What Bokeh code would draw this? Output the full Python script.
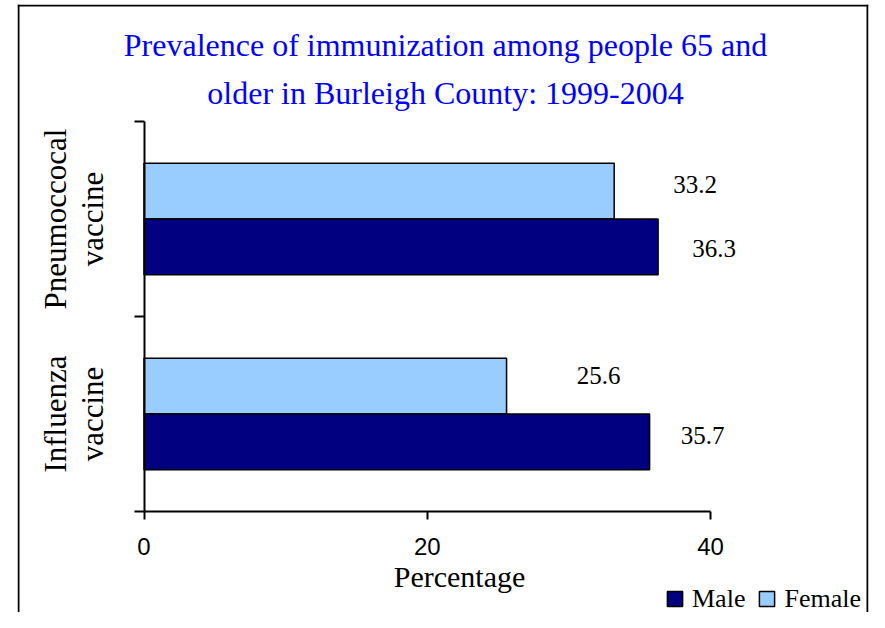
from bokeh.plotting import figure
from bokeh.models import (Range1d, FixedTicker, LinearAxis, Label, LabelSet,
                          ColumnDataSource, Legend, LegendItem, Span)
from bokeh.core.properties import value
from bokeh.embed import file_html
from bokeh.resources import INLINE
import numpy as np

# ---------------- data ----------------
categories = ["Influenza\nvaccine", "Pneumoccocal\nvaccine"]   # bottom -> top
male = [35.7, 36.3]
female = [25.6, 33.2]
series_names = ["Male", "Female"]
x_ticks = [0, 20, 40]
title_lines = ["Prevalence of immunization among people 65 and",
               "older in Burleigh County: 1999-2004"]
x_label = "Percentage"

# ---------------- styling / layout ----------------
MALE_COLOR = "#000080"
FEMALE_COLOR = "#99CCFF"
TITLE_COLOR = "#0000FF"
SERIF = "Liberation Serif"
SANS = "Liberation Sans"
BAR_H = 0.286
DODGE = 0.143
# data-label offsets in pixels (per category, bottom -> top)
male_xoff = [53, 56]
male_yoff = [6, -2]
female_xoff = [92, 81]
female_yoff = [11, 7]

# canvas geometry (canvas pixels)
W, H = 869, 612
ML, MT, MR, MB = 17, 4, 1, 0
F_LEFT, F_TOP = ML, MT
F_RIGHT, F_BOTTOM = W - MR, H - MB
# where the data area (axes) sits on the canvas
AX_LEFT, AX_RIGHT = 143.5, 710.0
AX_TOP, AX_BOTTOM = 121.0, 511.0
# chart border (left, top, right), canvas pixels
BORDER_L, BORDER_T, BORDER_R = 18, 5, 867

x_lo, x_hi = 0, x_ticks[-1]
y_lo, y_hi = 0, len(categories)
sx = (AX_RIGHT - AX_LEFT) / (x_hi - x_lo)
sy = (AX_BOTTOM - AX_TOP) / (y_hi - y_lo)
x_range = Range1d(x_lo - (AX_LEFT - F_LEFT) / sx, x_hi + (F_RIGHT - AX_RIGHT) / sx)
y_range = Range1d(y_lo - (F_BOTTOM - AX_BOTTOM) / sy, y_hi + (AX_TOP - F_TOP) / sy)


def scr(px, py):
    """canvas pixel -> frame screen units (x from left, y from bottom)"""
    return px - F_LEFT, F_BOTTOM - py


def dx(px):
    return x_lo + (px - AX_LEFT) / sx


def dy(py):
    return y_lo + (AX_BOTTOM - py) / sy


p = figure(width=W, height=H, output_backend="svg", toolbar_location=None,
           x_range=x_range, y_range=y_range,
           x_axis_type=None, y_axis_type=None, title=None,
           min_border_left=ML, min_border_right=MR,
           min_border_top=MT, min_border_bottom=MB)
p.grid.visible = False
p.outline_line_color = None
p.background_fill_color = "white"
p.border_fill_color = "white"

# chart border (three sides; the bottom lies below the visible page)
for loc, dim in [(dx(BORDER_L), "height"), (dx(BORDER_R), "height"), (dy(BORDER_T), "width")]:
    p.add_layout(Span(location=loc, dimension=dim, line_color="black", line_width=2))

centers = np.arange(len(categories)) + 0.5

r_f = p.hbar(y=centers + DODGE, right=female, left=0, height=BAR_H,
             fill_color=FEMALE_COLOR, line_color="black", line_width=1.5)
r_m = p.hbar(y=centers - DODGE, right=male, left=0, height=BAR_H,
             fill_color=MALE_COLOR, line_color="black", line_width=1.5)

# axes (fixed inside the frame, bounded to the data area)
xaxis = LinearAxis(fixed_location=y_lo, bounds=(x_lo, x_hi),
                   ticker=FixedTicker(ticks=x_ticks, minor_ticks=[]),
                   axis_line_width=2, axis_line_color="black",
                   major_tick_out=8, major_tick_in=0, major_tick_line_width=2,
                   major_tick_line_color="black",
                   minor_tick_line_color=None,
                   major_label_text_font=SANS, major_label_text_font_size="24px",
                   major_label_text_color="black", major_label_standoff=18)
p.add_layout(xaxis, "below")

yaxis = LinearAxis(fixed_location=x_lo, bounds=(y_lo, y_hi),
                   ticker=FixedTicker(ticks=list(centers),
                                      minor_ticks=list(range(len(categories) + 1))),
                   axis_line_width=2, axis_line_color="black",
                   major_tick_line_color=None, major_tick_out=0, major_tick_in=0,
                   minor_tick_out=10, minor_tick_in=0, minor_tick_line_width=2,
                   minor_tick_line_color="black",
                   major_label_overrides={float(c): lab for c, lab in zip(centers, categories)},
                   major_label_orientation="vertical",
                   major_label_text_font=SERIF, major_label_text_font_size="31px",
                   major_label_text_line_height=1.05,
                   major_label_text_color="black", major_label_standoff=24)
p.add_layout(yaxis, "left")

# data labels
lab_src = ColumnDataSource(dict(
    x=list(male) + list(female),
    y=list(centers - DODGE) + list(centers + DODGE),
    text=[f"{v:.1f}" for v in list(male) + list(female)],
    xoff=male_xoff + female_xoff,
    yoff=male_yoff + female_yoff,
))
p.add_layout(LabelSet(x="x", y="y", text="text", source=lab_src,
                      x_offset="xoff", y_offset="yoff",
                      text_align="center", text_baseline="middle",
                      text_font=value(SERIF), text_font_size="25px",
                      text_color="black"))

# title (two centred lines)
for txt, base in zip(title_lines, [44, 92]):
    tx, ty = scr(445, base)
    p.add_layout(Label(x=tx, y=ty, x_units="screen", y_units="screen",
                       text=txt, text_align="center", text_baseline="alphabetic",
                       text_color=TITLE_COLOR, text_font=SERIF,
                       text_font_size="32px"))

# x axis title
tx, ty = scr(459, 576)
p.add_layout(Label(x=tx, y=ty, x_units="screen", y_units="screen",
                   text=x_label, text_align="center", text_baseline="alphabetic",
                   text_color="black", text_font=SERIF, text_font_size="30px"))

# legend
lx, ly = scr(665, 613.5)
legend = Legend(items=[LegendItem(label=series_names[0], renderers=[r_m]),
                       LegendItem(label=series_names[1], renderers=[r_f])],
                orientation="horizontal", location=(lx, ly),
                glyph_width=19, glyph_height=19, label_standoff=8, spacing=12,
                padding=0, margin=0, border_line_color=None,
                background_fill_alpha=0,
                label_text_font=SERIF, label_text_font_size="26px",
                label_text_color="black", label_height=19)
p.add_layout(legend)

open("out.html", "w").write(file_html(p, INLINE))
